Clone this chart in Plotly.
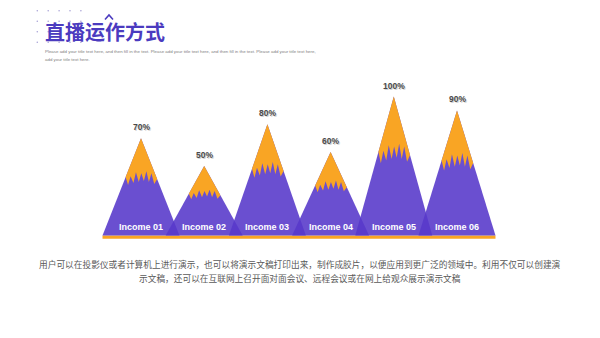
import plotly.graph_objects as go

# ---- data ----
categories = ["Income 01", "Income 02", "Income 03", "Income 04", "Income 05", "Income 06"]
values = [70, 50, 80, 60, 100, 90]
value_labels = ["70%", "50%", "80%", "60%", "100%", "90%"]

title_text = "直播运作方式"
subtitle_lines = [
    "Please add your title text here, and then fill in the text. Please add your title text here, and then fill in the text. Please add your title text here,",
    "add your title text here.",
]
paragraph_lines = [
    "用户可以在投影仪或者计算机上进行演示，也可以将演示文稿打印出来，制作成胶片，以便应用到更广泛的领域中。利用不仅可以创建演",
    "示文稿，还可以在互联网上召开面对面会议、远程会议或在网上给观众展示演示文稿",
]

# ---- styling ----
W, H = 600, 338
PURPLE = "rgba(88,57,202,0.89)"
ORANGE = "#F9A524"
TITLE_C = "#4B3BBF"
HALF = 0.609          # half base width of a mountain, in category units
# jagged bottom edge of the cap: (u across width -1..1, depth fraction from peak)
JAG = [(-1.0, 0.40), (-0.82, 0.48), (-0.66, 0.39), (-0.48, 0.46), (-0.32, 0.35),
       (-0.14, 0.45), (0.02, 0.36), (0.18, 0.44), (0.34, 0.34), (0.5, 0.45),
       (0.66, 0.36), (0.84, 0.47), (1.0, 0.42)]

def px(x):
    return x / W

def py(y):
    return 1 - y / H

fig = go.Figure()

# mountains
for i, v in enumerate(values):
    fig.add_trace(go.Scatter(
        x=[i - HALF, i, i + HALF, i - HALF], y=[0, v, 0, 0],
        mode="lines", fill="toself", fillcolor=PURPLE,
        line=dict(width=0, color=PURPLE), hoverinfo="skip", showlegend=False))

# snow caps
for i, v in enumerate(values):
    xs, ys = [i], [v]
    for u, f in JAG:
        xs.append(i + u * f * HALF if abs(u) == 1 else i + u * 0.41 * HALF)
        ys.append(v * (1 - f))
    xs.append(i)
    ys.append(v)
    fig.add_trace(go.Scatter(
        x=xs, y=ys, mode="lines", fill="toself", fillcolor=ORANGE,
        line=dict(width=0, color=ORANGE), hoverinfo="skip", showlegend=False))

annotations = []
for i, (c, v, lab) in enumerate(zip(categories, values, value_labels)):
    annotations.append(dict(x=i, y=0, xref="x", yref="y", text=f"<b>{c}</b>",
                            showarrow=False, yanchor="bottom", yshift=1.5,
                            font=dict(family="Liberation Sans, Arial", size=9, color="white")))
    # soft shadow + label
    annotations.append(dict(x=i, y=v, xref="x", yref="y", text=f"<b>{lab}</b>",
                            showarrow=False, yanchor="bottom", yshift=3, xshift=1,
                            font=dict(family="Liberation Sans, Arial", size=8.5, color="#d4d4d4")))
    annotations.append(dict(x=i, y=v, xref="x", yref="y", text=f"<b>{lab}</b>",
                            showarrow=False, yanchor="bottom", yshift=4,
                            font=dict(family="Liberation Sans, Arial", size=8.5, color="#4a4a4a")))

# title & texts
annotations.append(dict(x=px(43), y=py(31), xref="paper", yref="paper", xanchor="left", yanchor="middle",
                        text=f"<b>{title_text}</b>", showarrow=False,
                        font=dict(family="Noto Sans CJK SC", size=20, color=TITLE_C)))
for k, line in enumerate(subtitle_lines):
    annotations.append(dict(x=px(43), y=py(51.5 + 7.5 * k), xref="paper", yref="paper",
                            xanchor="left", yanchor="middle", text=line, showarrow=False,
                            font=dict(family="Liberation Sans, Arial", size=4.4, color="#808080")))
for k, line in enumerate(paragraph_lines):
    annotations.append(dict(x=0.5, y=py(264 + 14.5 * k), xref="paper", yref="paper",
                            xanchor="center", yanchor="middle", text=line, showarrow=False,
                            font=dict(family="Noto Sans CJK SC", size=8.7, color="#595959")))

shapes = []
# base orange line
shapes.append(dict(type="rect", xref="x", yref="y", x0=-HALF, x1=len(values) - 1 + HALF,
                   y0=-2.4, y1=0, fillcolor=ORANGE, line=dict(width=0), layer="below"))
# decorative dot grid
for r in range(4):
    for c in range(5):
        cx, cy = 37.3 + 10.9 * c, 10.7 + 10.5 * r
        shapes.append(dict(type="circle", xref="paper", yref="paper",
                           x0=px(cx - 0.8), x1=px(cx + 0.8), y0=py(cy + 0.8), y1=py(cy - 0.8),
                           fillcolor="#a9a3d6", line=dict(width=0), layer="below"))
# caret above title
shapes.append(dict(type="path", xref="paper", yref="paper",
                   path=f"M {px(105)},{py(19.5)} L {px(109)},{py(15)} L {px(113)},{py(19.5)}",
                   line=dict(color=TITLE_C, width=1.6)))

fig.update_layout(
    width=W, height=H,
    margin=dict(l=0, r=0, t=0, b=0),
    paper_bgcolor="white", plot_bgcolor="white",
    xaxis=dict(range=[-141 / 63.2, 459 / 63.2], visible=False, fixedrange=True),
    yaxis=dict(range=[(235.5 - 338) / 1.39, 235.5 / 1.39], visible=False, fixedrange=True),
    annotations=annotations, shapes=shapes, showlegend=False,
)

fig.write_html("out.html")
